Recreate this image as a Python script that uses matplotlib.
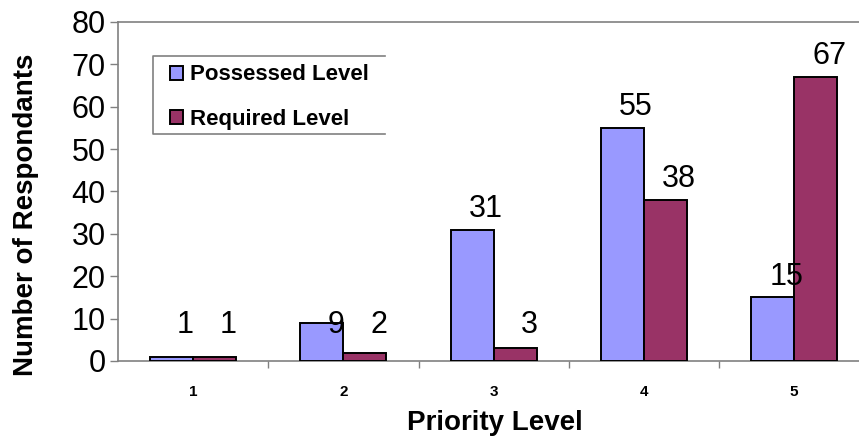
import matplotlib
matplotlib.use("Agg")
from matplotlib import pyplot as plt
import numpy as np

plt.rcParams['font.family'] = ['Liberation Sans', 'DejaVu Sans']

levels = ['1', '2', '3', '4', '5']
possessed = [1, 9, 31, 55, 15]
required = [1, 2, 3, 38, 67]

blue = '#9999FF'
maroon = '#993366'
grey = '#808080'

fig = plt.figure(figsize=(8.59, 4.42), dpi=100)
ax = fig.add_axes([118 / 859, 1 - 361 / 442, 1 - 118 / 859, (361 - 22) / 442])

x = np.arange(1, len(levels) + 1)
w = 0.287
b1 = ax.bar(x - w / 2, possessed, w, color=blue, edgecolor='black', linewidth=1.4,
            label='Possessed Level', zorder=3)
b2 = ax.bar(x + w / 2, required, w, color=maroon, edgecolor='black', linewidth=1.4,
            label='Required Level', zorder=3)

# value labels (small values sit on a common baseline, like the original)
for bars, vals in ((b1, possessed), (b2, required)):
    for rect, v in zip(bars, vals):
        y = v + 3 if v >= 10 else 6.6
        ax.annotate(str(v), (rect.get_x() + rect.get_width() / 2, y),
                    xytext=(10, 0), textcoords='offset points',
                    ha='center', va='baseline', fontsize=22)

ax.set_xlim(0.5, 0.5 + (859 - 118) / 150.25)
ax.set_ylim(0, 80)
ax.set_yticks(range(0, 81, 10))
ax.tick_params(axis='y', labelsize=22, length=6, color=grey, width=1, pad=3)

ax.set_xticks(x[:-1] + 0.5)
ax.set_xticklabels([])
ax.set_xticks(x, minor=True)
ax.set_xticklabels(levels, minor=True, fontsize=11, fontweight='bold')
ax.tick_params(axis='x', which='major', length=5, color=grey, width=1)
ax.tick_params(axis='x', which='minor', length=0, pad=17)

for side in ('left', 'bottom', 'top'):
    ax.spines[side].set_color(grey)
    ax.spines[side].set_linewidth(1.2)
ax.spines['right'].set_visible(False)

ax.set_ylabel('Number of Respondants', fontsize=20, fontweight='bold')
ax.yaxis.set_label_coords(-0.106, 0.43)
ax.set_xlabel('Priority Level', fontsize=20, fontweight='bold')
ax.xaxis.set_label_coords(0.509, -0.145)

leg = ax.legend(loc='upper left', bbox_to_anchor=(0.0702, 0.8747),
                prop={'weight': 'bold', 'size': 16}, frameon=False,
                handlelength=0.6, handleheight=0.6,
                handletextpad=0.3, labelspacing=1.04, borderpad=0,
                borderaxespad=0)

# legend box: open on the right, as in the original
lx0, lx1 = 35 / 741, 267 / 741
ly0, ly1 = (361 - 134) / 339, (361 - 56) / 339
ax.plot([lx1, lx0, lx0, lx1], [ly1, ly1, ly0, ly0], transform=ax.transAxes,
        color=grey, linewidth=1.2, clip_on=False, zorder=5)

fig.savefig('out.png', dpi=100)
